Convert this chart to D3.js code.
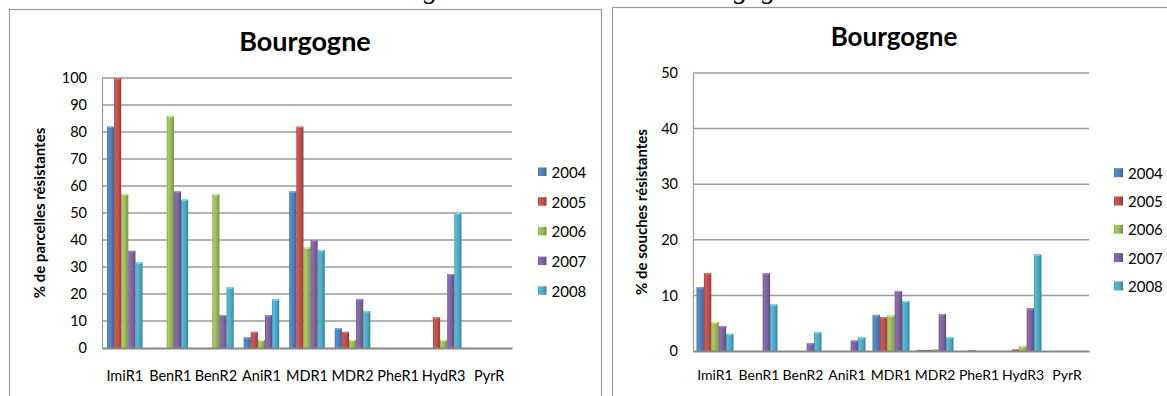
<!DOCTYPE html>
<html>
<head>
<meta charset="utf-8">
<script src="https://cdnjs.cloudflare.com/ajax/libs/d3/7.8.5/d3.min.js"></script>
<style>
  html, body { margin: 0; padding: 0; background: #fff; }
  svg { display: block; }
  text { font-family: Lato, "Open Sans", sans-serif; fill: #000; }
</style>
</head>
<body>
<svg id="chart" width="1167" height="396"></svg>
<script>
// ---------- data ----------
const categories = ["ImiR1", "BenR1", "BenR2", "AniR1", "MDR1", "MDR2", "PheR1", "HydR3", "PyrR"];
const years = ["2004", "2005", "2006", "2007", "2008"];
const colors = ["#4F81BD", "#C0504D", "#9BBB59", "#8064A2", "#4BACC6"];

// left chart: % de parcelles résistantes
const parcelles2004 = [82, 0, 0, 4, 58, 7.3, 0, 0, 0];
const parcelles2005 = [100, 0, 0, 6, 82, 6, 0, 11.4, 0];
const parcelles2006 = [57, 86, 57, 3, 37.3, 3, 0, 3, 0];
const parcelles2007 = [36, 58, 12.2, 12.2, 40, 18.1, 0, 27.4, 0];
const parcelles2008 = [31.7, 55, 22.5, 18.1, 36.3, 13.7, 0, 50, 0];
const parcellesTicks = [0, 10, 20, 30, 40, 50, 60, 70, 80, 90, 100];

// right chart: % de souches résistantes
const souches2004 = [11.5, 0, 0, 0, 6.5, 0.2, 0, 0, 0];
const souches2005 = [14, 0, 0, 0, 6.1, 0.2, 0.15, 0.3, 0];
const souches2006 = [5.2, 0, 0, 0, 6.4, 0.3, 0, 0.9, 0];
const souches2007 = [4.5, 14, 1.4, 1.9, 10.8, 6.65, 0, 7.7, 0];
const souches2008 = [3.1, 8.4, 3.4, 2.5, 9.0, 2.5, 0, 17.4, 0];
const souchesTicks = [0, 10, 20, 30, 40, 50];

const title = "Bourgogne";

// ---------- drawing ----------
const svg = d3.select("#chart");
const defs = svg.append("defs");

colors.forEach((c, i) => {
  const base = d3.color(c);
  const g = defs.append("linearGradient").attr("id", "grad" + i)
    .attr("x1", "0%").attr("x2", "100%").attr("y1", "0%").attr("y2", "0%");
  g.append("stop").attr("offset", "0%").attr("stop-color", base.darker(0.5));
  g.append("stop").attr("offset", "18%").attr("stop-color", base.brighter(0.25));
  g.append("stop").attr("offset", "55%").attr("stop-color", base);
  g.append("stop").attr("offset", "85%").attr("stop-color", base.darker(0.45));
  g.append("stop").attr("offset", "100%").attr("stop-color", base.darker(0.9));
});

// cut-off captions above the charts (only descenders visible)
svg.append("text").attr("x", 424).attr("y", -2)
  .style("font-family", "'Liberation Serif', serif").style("font-style", "italic")
  .style("font-size", "28px").text("g");
svg.append("text").attr("x", 734).attr("y", -2)
  .style("font-family", "'Liberation Serif', serif").style("font-style", "italic")
  .style("font-size", "28px").text("gog");

function drawChart(cfg) {
  const g = svg.append("g");
  // frame
  g.append("rect").attr("x", cfg.frame[0]).attr("y", cfg.frame[1])
    .attr("width", cfg.frame[2]).attr("height", cfg.frame[3])
    .attr("fill", "#fff").attr("stroke", "#9a9a9a").attr("stroke-width", 1.2);

  const x0 = d3.scaleBand().domain(categories).range([cfg.plot.left, cfg.plot.right])
    .paddingInner(cfg.pad).paddingOuter(cfg.pad / 2);
  const x1 = d3.scaleBand().domain(years).range([0, x0.bandwidth()]);
  const y = d3.scaleLinear().domain([0, d3.max(cfg.ticks)]).range([cfg.plot.bottom, cfg.plot.top]);

  // gridlines
  g.append("g").selectAll("line").data(cfg.ticks.slice(1)).join("line")
    .attr("x1", cfg.plot.left).attr("x2", cfg.plot.right)
    .attr("y1", d => y(d)).attr("y2", d => y(d))
    .attr("stroke", "#9a9a9a").attr("stroke-width", 1.5);

  // y axis
  const yAxis = d3.axisLeft(y).tickValues(cfg.ticks).tickSize(0).tickPadding(15);
  const ya = g.append("g").attr("transform", `translate(${cfg.plot.left},0)`).call(yAxis);
  ya.select(".domain").attr("stroke", "#9a9a9a").attr("stroke-width", 1.2);
  ya.selectAll("text").style("font-family", "Lato, sans-serif").style("font-size", "14.5px").attr("fill", "#000");

  // bars
  const series = cfg.series;
  const groups = g.append("g").selectAll("g").data(categories).join("g")
    .attr("transform", d => `translate(${x0(d)},0)`);
  groups.each(function (cat, ci) {
    const items = years.map((yr, si) => ({ yr, si, v: series[si][ci] })).filter(d => d.v > 0);
    const sel = d3.select(this);
    sel.selectAll("rect.bar").data(items).join("rect").attr("class", "bar")
      .attr("x", d => x1(d.yr)).attr("width", x1.bandwidth())
      .attr("y", d => y(d.v)).attr("height", d => y(0) - y(d.v))
      .attr("fill", d => `url(#grad${d.si})`);
    sel.selectAll("rect.cap").data(items.filter(d => y(0) - y(d.v) > 3)).join("rect").attr("class", "cap")
      .attr("x", d => x1(d.yr) + 1).attr("width", x1.bandwidth() - 2)
      .attr("y", d => y(d.v)).attr("height", 1.5)
      .attr("fill", d => d3.color(colors[d.si]).brighter(0.8));
  });

  // x axis baseline + labels
  const xAxis = d3.axisBottom(x0).tickSize(0).tickPadding(cfg.labelPad);
  const xa = g.append("g").attr("transform", `translate(0,${cfg.plot.bottom})`).call(xAxis);
  xa.select(".domain").attr("stroke", "#868686").attr("stroke-width", 2.2);
  xa.selectAll("text").style("font-family", "Lato, sans-serif").style("font-size", cfg.labelSize + "px").attr("fill", "#000");

  // title
  g.append("text").attr("x", cfg.titleX).attr("y", cfg.titleY).attr("text-anchor", "middle")
    .style("font-weight", "bold").style("font-size", cfg.titleSize + "px").text(title);

  // y axis title
  g.append("text")
    .attr("transform", `translate(${cfg.yTitleX},${(cfg.plot.top + cfg.plot.bottom) / 2}) rotate(-90)`)
    .attr("text-anchor", "middle").attr("dominant-baseline", "middle")
    .style("font-weight", "bold").style("font-size", "15px").text(cfg.yTitle);

  // legend
  const lg = g.append("g").selectAll("g").data(years).join("g")
    .attr("transform", (d, i) => `translate(${cfg.legend.x},${cfg.legend.y + i * cfg.legend.step})`);
  lg.append("rect").attr("x", 0).attr("y", -4.5).attr("width", cfg.legend.box).attr("height", cfg.legend.box)
    .attr("fill", (d, i) => `url(#grad${i})`);
  lg.append("text").attr("x", cfg.legend.box + 5).attr("y", 0).attr("dominant-baseline", "central")
    .style("font-size", "15px").text(d => d);
}

drawChart({
  frame: [9.5, 9.5, 592, 420],
  plot: { left: 102, right: 512, top: 78, bottom: 348 },
  pad: 0.22,
  ticks: parcellesTicks,
  series: [parcelles2004, parcelles2005, parcelles2006, parcelles2007, parcelles2008],
  titleX: 305, titleY: 51, titleSize: 27,
  yTitle: "% de parcelles résistantes", yTitleX: 41,
  labelPad: 23, labelSize: 14.5,
  legend: { x: 538, y: 172, step: 29.7, box: 8.5 }
});

drawChart({
  frame: [612.5, 7.5, 620, 420],
  plot: { left: 693, right: 1089, top: 73, bottom: 351 },
  pad: 0.16,
  ticks: souchesTicks,
  series: [souches2004, souches2005, souches2006, souches2007, souches2008],
  titleX: 894, titleY: 46, titleSize: 26,
  yTitle: "% de souches résistantes", yTitleX: 643,
  labelPad: 19, labelSize: 14,
  legend: { x: 1114, y: 172.7, step: 28.3, box: 9 }
});
</script>
</body>
</html>
